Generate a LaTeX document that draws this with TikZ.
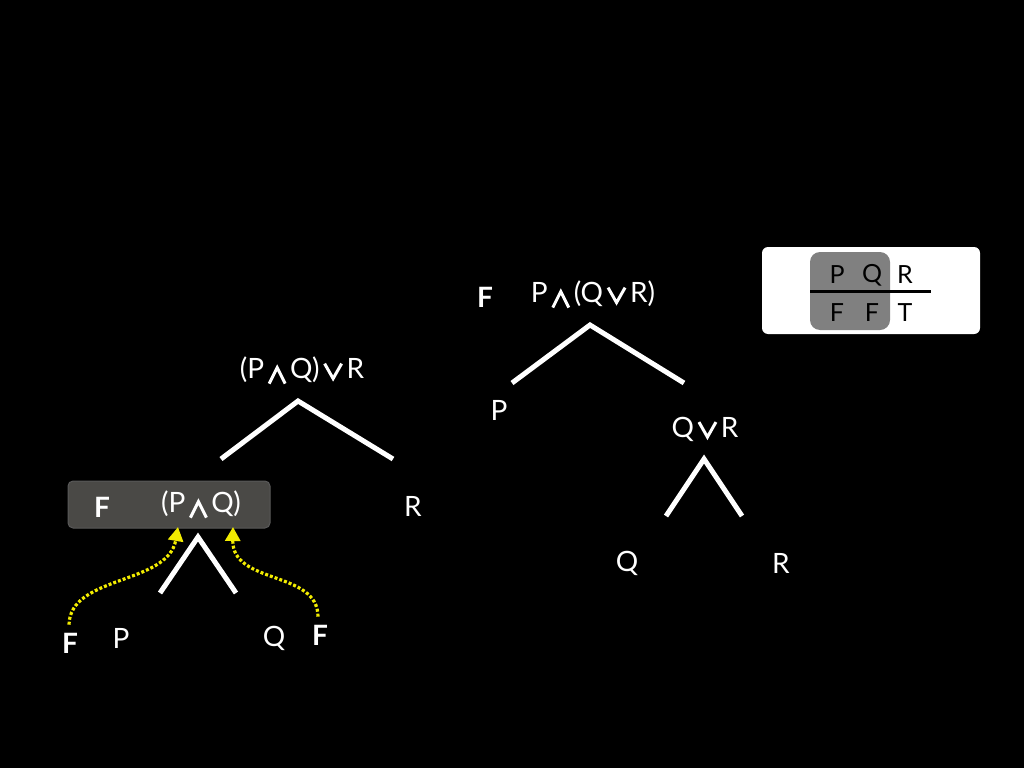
\documentclass[tikz,border=0pt]{standalone}
\usepackage{fontspec}
\setmainfont{Lato}
\usetikzlibrary{arrows.meta}
\newcommand{\myand}{\hspace{3.5pt}\tikz[baseline=0pt,x=1pt,y=1pt]\draw[white,line width=3pt,line join=miter,line cap=butt] (0,-5) -- (8,11) -- (16,-5);\hspace{3.5pt}}
\newcommand{\myor}{\hspace{3.5pt}\tikz[baseline=0pt,x=1pt,y=1pt]\draw[white,line width=3pt,line join=miter,line cap=butt] (0,15) -- (8.5,0) -- (17,15);\hspace{3.5pt}}
\definecolor{boxgrey}{HTML}{4A4946}
\definecolor{tabgrey}{HTML}{808080}
\definecolor{arrowyellow}{HTML}{F2EC00}
\tikzset{
  lbl/.style={text=white,font=\fontsize{28}{30}\selectfont,inner sep=0pt},
  tval/.style={text=white,font=\fontsize{28}{30}\selectfont\bfseries,inner sep=0pt},
  tlbl/.style={text=black,font=\fontsize{25}{30}\selectfont,inner sep=0pt},
  edge/.style={white,line width=5pt},
  yarrow/.style={arrowyellow,line width=3.2pt,dash pattern=on 3pt off 2pt,-{Triangle[width=15pt,length=14pt]}},
}
\begin{document}
\begin{tikzpicture}[x=1pt,y=-1pt]
\useasboundingbox[fill=black] (0,0) rectangle (1024,768);
% left tree
\node[lbl] (root1) at (302,371) {(P\myand Q)\myor R};
\coordinate (r1top) at (298,401);
\coordinate (r1l) at (221,459);
\coordinate (r1r) at (393,459);
\draw[edge] (r1l) -- (r1top) -- (r1r);
\node[lbl] (R1) at (413,506) {R};
\node[draw=gray!70!black,fill=boxgrey,rounded corners=5pt,minimum width=202pt,minimum height=47pt,line width=1pt] (gbox) at (169,504.5) {};
\node[tval] (Fpq) at (102,507) {F};
\node[lbl] (pq) at (201,505) {(P\myand Q)};
\coordinate (pqtop) at (198,537);
\coordinate (pql) at (160,593);
\coordinate (pqr) at (236,593);
\draw[edge] (pql) -- (pqtop) -- (pqr);
\node[lbl] (P1) at (121,638) {P};
\node[lbl] (Q1) at (274,638) {Q};
\node[tval] (FP) at (70,643) {F};
\node[tval] (FQ) at (320,635) {F};
\coordinate (al) at (178,527);
\coordinate (ar) at (233,527);
\draw[yarrow] (FP.north) ++(-1,-8) .. controls (70,575) and (168,585) .. (al);
\draw[yarrow] (FQ.north) ++(-2,-8) .. controls (318,570) and (232,585) .. (ar);
% middle tree
\node[tval] (Fm) at (485,297) {F};
\node[lbl] (root2) at (593,295) {P\myand(Q\myor R)};
\coordinate (r2top) at (590,325);
\coordinate (r2l) at (512,383);
\coordinate (r2r) at (684,383);
\draw[edge] (r2l) -- (r2top) -- (r2r);
\node[lbl] (P2) at (499,410) {P};
\node[lbl] (qr) at (705,429) {Q\myor R};
\coordinate (qrtop) at (704,459);
\coordinate (qrl) at (666,516);
\coordinate (qrr) at (742,516);
\draw[edge] (qrl) -- (qrtop) -- (qrr);
\node[lbl] (Q2) at (627,563) {Q};
\node[lbl] (R2) at (781,563) {R};
% table
\node[fill=white,rounded corners=6pt,minimum width=218pt,minimum height=87pt] (tab) at (871,290.5) {};
\node[fill=tabgrey,rounded corners=10pt,minimum width=80pt,minimum height=78pt] (hl) at (850,291) {};
\node[tlbl] (tP) at (837,275) {P};
\node[tlbl] (tQ) at (872,275) {Q};
\node[tlbl] (tR) at (905,275) {R};
\node[tlbl] (tF1) at (837,313) {F};
\node[tlbl] (tF2) at (872,313) {F};
\node[tlbl] (tT) at (905,313) {T};
\coordinate (hl1) at (810,291);
\coordinate (hl2) at (931,291);
\draw[black,line width=3pt] (hl1) -- (hl2);
\end{tikzpicture}
\end{document}
